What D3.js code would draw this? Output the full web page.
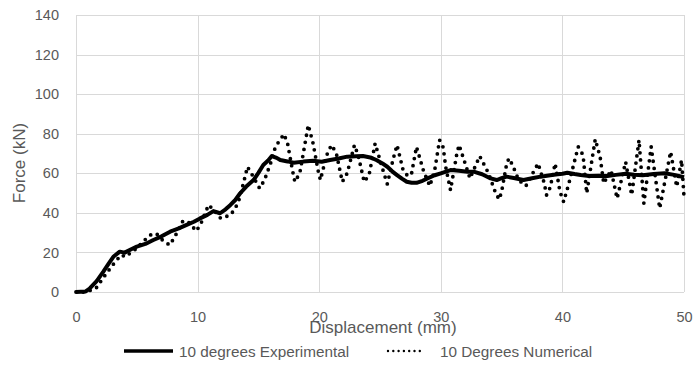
<!DOCTYPE html>
<html>
<head>
<meta charset="utf-8">
<script src="https://cdn.jsdelivr.net/npm/d3@7"></script>
<style>
  body { margin: 0; background: #fff; }
  svg text { font-family: "Liberation Sans", Arial, sans-serif; fill: #595959; }
</style>
</head>
<body>
<svg id="chart" width="694" height="365"></svg>
<script>
// experimental curve
var expDisp = [0, 0.8, 1.15, 1.7, 2.25, 2.7, 3.07, 3.6, 4.0, 4.5, 5.0, 5.7, 6.36, 7.0, 7.74, 8.4, 9.1, 9.7, 10.2, 10.8,
    11.3, 11.85, 12.3, 12.7, 13.1, 13.5, 14.0, 14.6, 15.0, 15.4, 15.8, 16.1, 16.5, 16.8, 17.4, 17.9, 18.7, 19.5, 20.2, 20.9,
    21.6, 22.3, 23.0, 23.6, 24.2, 24.7, 25.2, 25.6, 26.0, 26.4, 26.8, 27.2, 27.6, 28.0, 28.5, 28.9, 29.5, 30.0, 30.8, 31.5,
    32.2, 32.7, 33.4, 34.1, 34.6, 35.0, 35.4, 36.0, 36.8, 37.5, 38.2, 39.0, 39.6, 40.0, 40.4, 41.0, 41.5, 42.2, 43.0, 43.7,
    44.4, 45.2, 45.9, 46.6, 47.5, 48.4, 49.2, 50.0];
var expForce = [0, 0.3, 1.9, 5.5, 10.3, 14.5, 17.8, 20.4, 19.9, 21.5, 22.9, 24.3, 26.3, 28, 30.5, 32, 33.9, 35.5, 37.2, 39,
    40.9, 39.8, 41.8, 44, 46.5, 49.9, 53.3, 56.6, 60.2, 64.2, 66.5, 68.7, 67.8, 66.7, 66, 65.3, 65.9, 66.3, 65.8, 66.7,
    67.5, 68.4, 68.6, 68.7, 68, 66.7, 65, 63.3, 61, 59.1, 57.3, 55.7, 55.2, 55.2, 56.2, 57.4, 59, 60, 61.6, 61.3,
    60.8, 60.8, 59.5, 57.4, 56.6, 57.5, 58.3, 57.6, 56.6, 57.5, 58.3, 59, 59.5, 59.8, 60.3, 59.6, 59.1, 58.6, 58.8, 58.6,
    59.2, 59.8, 59.3, 59.0, 59.6, 60.0, 59.2, 58.0];

// numerical curve (turning points of the dotted line)
var numDisp = [0, 0.8, 1.65, 2.3, 3.0, 3.7, 4.1, 4.6, 5.0, 5.5, 6.1, 6.6, 7.1, 7.7, 8.1, 8.8, 9.3, 9.9, 10.3, 10.9,
    11.4, 11.9, 12.7, 13.1, 13.4, 13.8, 14.1, 14.5, 15.1, 15.5, 16.0, 16.4, 17.1, 17.4, 17.8, 18.0, 18.4, 18.8, 19.1, 19.5,
    19.9, 20.1, 20.6, 21.0, 21.4, 21.9, 22.3, 22.9, 23.2, 23.7, 24.1, 24.6, 25.2, 25.6, 26.1, 26.4, 26.9, 27.3, 27.6, 28.0,
    28.6, 29.1, 29.5, 29.9, 30.2, 30.4, 30.8, 31.3, 31.5, 32.0, 32.4, 33.2, 33.9, 34.5, 34.8, 35.0, 35.4, 35.6, 35.9, 36.4,
    37.0, 38.0, 38.5, 38.7, 39.0, 39.4, 39.8, 40.1, 40.5, 41.3, 41.7, 42.0, 42.7, 43.1, 43.4, 44.0, 44.5, 45.2, 45.7, 46.3,
    46.7, 47.3, 48.0, 48.9, 49.4, 49.8, 50.0];
var numForce = [0, 0, 1.9, 7.7, 13.5, 18.7, 17.8, 20.5, 22, 25.4, 28.8, 29.6, 26.3, 23.7, 27.6, 36, 35, 30.8, 35, 44,
    41, 37.2, 38.9, 42.3, 46.5, 55.7, 63.3, 59.1, 52.4, 56.6, 65, 73.4, 79.8, 75.1, 61.6, 55.7, 60, 73.8, 84.4, 75.1,
    61.6, 56.6, 68.9, 74.3, 70.4, 55.7, 60, 74.3, 69.2, 55.7, 59.1, 75.1, 62.5, 54.6, 67.6, 74.3, 61.6, 58.5, 60, 73.4,
    60.8, 53.6, 61.6, 76.8, 73.1, 63.3, 51.5, 69.2, 74.3, 65, 57.4, 68.7, 60.3, 50.2, 46.8, 50.7, 64.2, 67.6, 64.2, 56.6,
    53.6, 65, 55.2, 49, 52.9, 65, 50.7, 45.6, 54.1, 73.4, 69.2, 49.9, 77.2, 68.4, 54.9, 61.6, 47.3, 65.8, 49, 76.8,
    44.8, 73.4, 42.3, 70.9, 53.2, 66.7, 48.2];

var xTicks = [0, 10, 20, 30, 40, 50];
var yTicks = [0, 20, 40, 60, 80, 100, 120, 140];
var seriesNames = ["10 degrees Experimental", "10 Degrees Numerical"];

var margin = {top: 15, right: 10, bottom: 73, left: 76},
    width = 694 - margin.left - margin.right,
    height = 365 - margin.top - margin.bottom;

var svg = d3.select("#chart");
var g = svg.append("g").attr("transform", "translate(" + margin.left + "," + margin.top + ")");

var x = d3.scaleLinear().domain([0, 50]).range([0, width]);
var y = d3.scaleLinear().domain([0, 140]).range([height, 0]);

// gridlines
g.append("g").selectAll("line").data(yTicks).enter().append("line")
    .attr("x1", 0).attr("x2", width)
    .attr("y1", function (d) { return Math.round(y(d)) + 0.5; })
    .attr("y2", function (d) { return Math.round(y(d)) + 0.5; })
    .attr("stroke", "#d9d9d9").attr("stroke-width", 1);
g.append("g").selectAll("line").data(xTicks).enter().append("line")
    .attr("y1", 0).attr("y2", height)
    .attr("x1", function (d) { return Math.round(x(d)) + 0.5; })
    .attr("x2", function (d) { return Math.round(x(d)) + 0.5; })
    .attr("stroke", "#d9d9d9").attr("stroke-width", 1);

// tick labels
var xAxis = d3.axisBottom(x).tickValues(xTicks).tickSize(0).tickPadding(20);
var yAxis = d3.axisLeft(y).tickValues(yTicks).tickSize(0).tickPadding(17);
g.append("g").attr("transform", "translate(0," + height + ")").call(xAxis)
    .call(function (a) { a.select(".domain").remove(); })
    .selectAll("text").style("font-size", "14.5px").attr("fill", "#595959");
g.append("g").call(yAxis)
    .call(function (a) { a.select(".domain").remove(); })
    .selectAll("text").style("font-size", "14.5px").attr("fill", "#595959");

var line = d3.line()
    .x(function (d) { return x(d[0]); })
    .y(function (d) { return y(d[1]); });

var numData = d3.zip(numDisp, numForce);
var expData = d3.zip(expDisp, expForce);

g.append("path").datum(numData)
    .attr("d", line)
    .attr("fill", "none").attr("stroke", "#000")
    .attr("stroke-width", 3.8)
    .attr("stroke-linecap", "round")
    .attr("stroke-dasharray", "0 7.2");

g.append("path").datum(expData)
    .attr("d", line)
    .attr("fill", "none").attr("stroke", "#000")
    .attr("stroke-width", 4)
    .attr("stroke-linejoin", "round");

// axis titles
svg.append("text")
    .attr("x", 383).attr("y", 333)
    .attr("text-anchor", "middle")
    .style("font-size", "17px")
    .text("Displacement (mm)");
svg.append("text")
    .attr("transform", "translate(25,163)rotate(-90)")
    .attr("text-anchor", "middle")
    .style("font-size", "17px")
    .text("Force (kN)");

// legend
var legend = svg.append("g");
legend.append("line")
    .attr("x1", 124).attr("x2", 173).attr("y1", 351).attr("y2", 351)
    .attr("stroke", "#000").attr("stroke-width", 3.6);
legend.append("text").attr("x", 179).attr("y", 356.5)
    .style("font-size", "15.3px").text(seriesNames[0]);
legend.append("line")
    .attr("x1", 388).attr("x2", 425).attr("y1", 351).attr("y2", 351)
    .attr("stroke", "#000").attr("stroke-width", 2.4)
    .attr("stroke-linecap", "round")
    .attr("stroke-dasharray", "0 5.3");
legend.append("text").attr("x", 440).attr("y", 356.5)
    .style("font-size", "15.3px").text(seriesNames[1]);
</script>
</body>
</html>
